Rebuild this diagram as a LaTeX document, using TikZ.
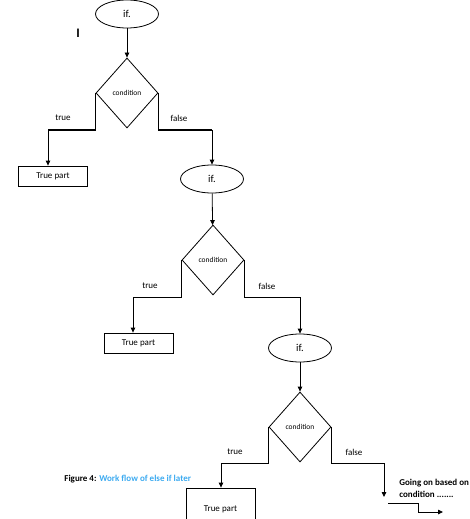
\documentclass[tikz,border=0pt]{standalone}
\usepackage{fontspec}
\setmainfont{Carlito}
\usetikzlibrary{shapes.geometric}
\usetikzlibrary{arrows.meta}
\definecolor{captionblue}{RGB}{60,170,240}

\begin{document}
\begin{tikzpicture}[x=1pt,y=-1pt,line width=0.8pt,
		ifnode/.style={ellipse, draw, minimum width=63pt, minimum height=28pt, inner sep=0pt, font=\fontsize{10.5}{11}\selectfont},
		condnode/.style={diamond, draw, minimum width=62pt, minimum height=70pt, inner sep=0pt, font=\fontsize{7.5}{8}\selectfont},
		partnode/.style={rectangle, draw, minimum width=69pt, minimum height=20pt, inner sep=0pt, font=\fontsize{9}{10}\selectfont},
		lbl/.style={font=\fontsize{9}{10}\selectfont},
		arr/.style={-{Triangle[length=5pt,width=4.5pt]}}]
				\useasboundingbox (0,0) rectangle (470,519);
				
				\node[ifnode] (if1) at (127,14) {if.};
				\node[condnode] (cond1) at (127,93) {condition};
				\node[partnode] (part1) at (53,176) {True part};
				\node[ifnode] (if2) at (212,179) {if.};
				\node[condnode] (cond2) at (213,260) {condition};
				\node[partnode] (part2) at (138.5,343) {True part};
				\node[ifnode] (if3) at (300,348) {if.};
				\node[condnode] (cond3) at (300,427) {condition};
				\node[partnode, minimum height=42pt] (part3) at (220.5,509) {True part};
				
				\node[font=\bfseries\fontsize{13}{14}\selectfont] (cursor) at (78,33) {I};
				
				\coordinate (t1) at (48,130);
				\coordinate (f1) at (212,130);
				\coordinate (t2) at (133,297);
				\coordinate (f2) at (300,297);
				\coordinate (t3) at (221,463);
				\coordinate (f3) at (384,463);
				\coordinate (f3end) at (384,497);
				\coordinate (s1) at (388,503);
				\coordinate (s2) at (443,512);
				
				\draw[arr]  (if1) -- (cond1);
				\draw[arr]  (cond1.west) |- (t1) -- (t1 |- part1.north);
				\draw[arr]  (cond1.east) |- (f1) -- (if2);
				\draw[line width=1.8pt]  (cond1.west |- t1) -- (t1);
				\draw[line width=1.8pt]  (cond1.east |- f1) -- (f1);
				\draw[arr]  (if2) -- (cond2);
				\draw[arr]  (cond2.west) |- (t2) -- (t2 |- part2.north);
				\draw[arr]  (cond2.east) |- (f2) -- (if3);
				\draw[arr]  (if3) -- (cond3);
				\draw[arr]  (cond3.west) |- (t3) -- (t3 |- part3.north);
				\draw[arr]  (cond3.east) |- (f3) -- (f3end);
				\draw[arr]  (s1) -- ++(30,0) |- (s2);
				
				\node[lbl] (true1) at (63,118) {true};
				\node[lbl] (false1) at (179,118) {false};
				\node[lbl] (true2) at (150,286) {true};
				\node[lbl] (false2) at (267,286) {false};
				\node[lbl] (true3) at (235,452) {true};
				\node[lbl] (false3) at (354,452) {false};
				
				\node[lbl, font=\bfseries\fontsize{9}{12}\selectfont, anchor=west, align=left, inner sep=0pt] (going) at (399,488) {Going on based on\\condition .......};
				\node[font=\bfseries\fontsize{9}{10}\selectfont, anchor=west, inner sep=0pt] (caption) at (64,479) {Figure 4: \textcolor{captionblue}{Work flow of else if later}};
			\end{tikzpicture}
\end{document}
